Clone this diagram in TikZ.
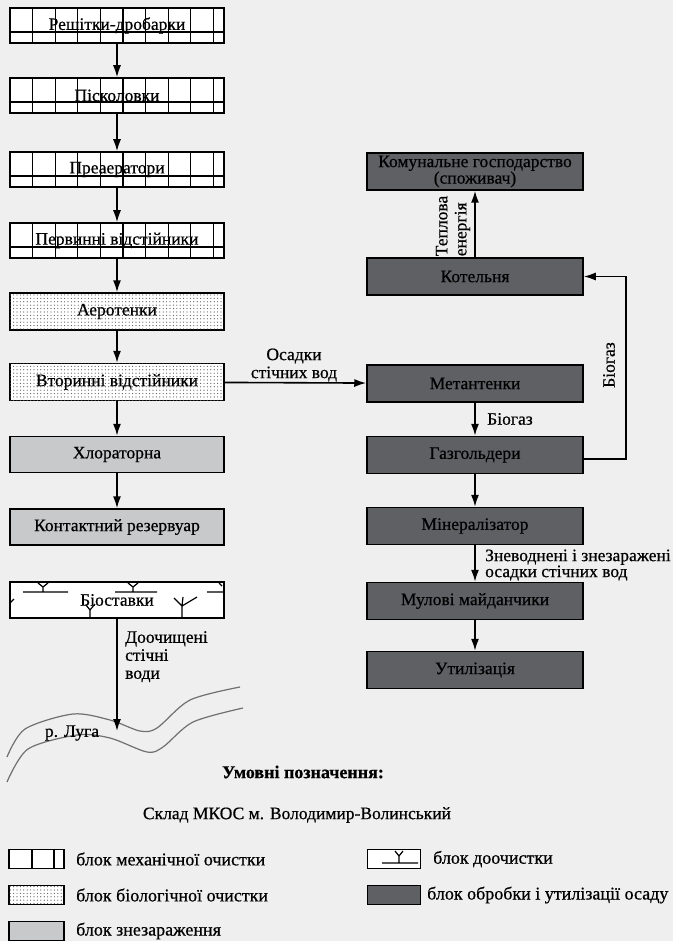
\documentclass[tikz,border=0pt]{standalone}
\usepackage{fontspec}
\setmainfont{Liberation Serif}[FakeBold=0.6]
\usetikzlibrary{arrows.meta,patterns}
\pgfdeclarepatternformonly{bigdots}{\pgfqpoint{-1pt}{-1pt}}{\pgfqpoint{1pt}{1pt}}{\pgfqpoint{3.4pt}{3.4pt}}{\pgfpathcircle{\pgfqpoint{0pt}{0pt}}{0.6pt}\pgfusepath{fill}}
\definecolor{bg}{HTML}{EFEFEF}
\definecolor{darkbox}{HTML}{5E6064}
\definecolor{lightbox}{HTML}{C8C9CB}
\definecolor{river}{HTML}{707070}
\definecolor{dotc}{HTML}{555555}
\begin{document}
\begin{tikzpicture}[x=1pt,y=-1pt,
  every node/.style={font=\fontsize{17.5}{17}\selectfont, inner sep=0pt},
  box/.style={draw, line width=1.5pt, minimum width=214pt, minimum height=35pt},
  rbox/.style={draw, line width=1.5pt, minimum width=216pt, minimum height=37pt, fill=darkbox},
  mech/.style={box, fill=white, path picture={
      \foreach \i in {1,...,9}
        \draw[line width=1.3pt] ([xshift=\i*22.6pt]path picture bounding box.south west) -- ([xshift=\i*22.6pt]path picture bounding box.north west);
      \draw[line width=1.3pt] ([yshift=11pt]path picture bounding box.south west) -- ([yshift=11pt]path picture bounding box.south east);}},
  bio/.style={box, fill=white, minimum height=37pt, postaction={pattern=bigdots, pattern color=dotc}},
  dis/.style={box, fill=lightbox, minimum height=36pt},
  arr/.style={line width=1.6pt, -{Latex[length=12pt,width=8pt]}},
  lbl/.style={font=\fontsize{17.5}{18}\selectfont},
  leg/.style={draw, line width=1.5pt, minimum width=55pt, minimum height=19pt},
  legtxt/.style={anchor=west, font=\fontsize{18}{18}\selectfont},
  thin/.style={line width=1.2pt}
]
\fill[bg] (0,0) rectangle (673,941);
\useasboundingbox (0,0) rectangle (673,941);

% left column
\node[mech] (m1) at (117,25.5) {\raisebox{-2pt}{Решітки-дробарки}};
\node[mech] (m2) at (117,95.5) {\raisebox{-2pt}{Пісколовки}};
\node[mech] (m3) at (117,169.5) {\raisebox{-2pt}{Преаератори}};
\node[mech] (m4) at (117,240.5) {\raisebox{-2pt}{Первинні відстійники}};
\node[bio] (b1) at (117,311.5) {Аеротенки};
\node[bio] (b2) at (117,382) {Вторинні відстійники};
\node[dis] (d1) at (117,454.5) {Хлораторна};
\node[dis] (d2) at (117,527) {Контактний резервуар};
\node[box, fill=white, minimum height=36pt] (bs) at (117,600) {Біоставки};

\draw[arr] (m1) -- (m2);
\draw[arr] (m2) -- (m3);
\draw[arr] (m3) -- (m4);
\draw[arr] (m4) -- (b1);
\draw[arr] (b1) -- (b2);
\draw[arr] (b2) -- (d1);
\draw[arr] (d1) -- (d2);

% biostavky symbols
\draw[thin] (23,592) -- (68,592) (43,592) -- (43,587) -- (38,583) (43,587) -- (48,583);
\draw[thin] (115,592) -- (157,592) (133,592) -- (133,587) -- (128,583) (133,587) -- (138,583);
\draw[thin] (207,592) -- (223,592) (219,583) -- (222,586);
\draw[thin] (10,603) -- (14,599);
\draw[thin] (90,618) -- (90,610) -- (86,605) (90,610) -- (95,604);
\draw[thin] (182,618) -- (182,606) -- (174,598) (182,606) -- (197,597) (182,606) -- (183,597);

% river
\draw[river, line width=1.2pt] plot[smooth, tension=0.5] coordinates {(7,757) (25,729) (73,714) (110,720) (140,731) (157,728) (190,700) (240,687)};
\draw[river, line width=1.2pt] plot[smooth, tension=0.5] coordinates {(7,782) (28,749) (77,735) (110,738) (147,752) (163,747) (193,722) (243,708)};
\coordinate (riv) at (117,731);
\draw[arr] (bs) -- (riv);
\node[lbl, align=left, anchor=north west] (doo) at (125,631) {Доочищені\\стічні\\води};
\node[lbl] (luga) at (72,733) {р. Луга};

% right column
\node[rbox, align=center, font=\fontsize{17.5}{16.5}\selectfont] (kg) at (475,171.5) {Комунальне господарство\\(споживач)};
\node[rbox] (kot) at (475,276.5) {Котельня};
\node[rbox] (met) at (475,383.5) {Метантенки};
\node[rbox] (gas) at (475,455) {Газгольдери};
\node[rbox] (min) at (475,526) {Мінералізатор};
\node[rbox] (mul) at (475,601) {Мулові майданчики};
\node[rbox] (ut) at (475,670) {Утилізація};

\draw[arr] (kot) -- (kg);
\draw[arr] (met) -- (gas);
\draw[arr] (gas) -- (min);
\draw[arr] (min) -- (mul);
\draw[arr] (mul) -- (ut);
\draw[arr] ([yshift=-4pt]gas.east) -- ++(42,0) |- (kot.east);
\draw[arr] (b2) -- (met);

\node[lbl, rotate=90, align=left, font=\fontsize{17.5}{19}\selectfont] (tep) at (453,226) {Теплова\\енергія};
\node[lbl] (bg1) at (510,419) {Біогаз};
\node[lbl, rotate=90] (bg2) at (609,365) {Біогаз};
\node[lbl, align=center] (osad) at (294,365) {Осадки\\стічних вод};
\node[lbl, align=left, anchor=west, font=\fontsize{17.5}{16}\selectfont] (znev) at (485,565) {Зневоднені і знезаражені\\осадки стічних вод};

% legend
\node[font=\bfseries\fontsize{18}{18}\selectfont] (um) at (303,772) {Умовні позначення:};
\node[lbl] (sklad) at (297,815) {Склад МКОС м. Володимир-Волинський};

\node[leg, fill=white, path picture={
   \draw[line width=1.3pt] ([xshift=23pt]path picture bounding box.south west) -- ([xshift=23pt]path picture bounding box.north west);
   \draw[line width=1.3pt] ([xshift=45pt]path picture bounding box.south west) -- ([xshift=45pt]path picture bounding box.north west);}] (l1) at (36.5,859) {};
\node[legtxt] (t1) at (76,859) {блок механічної очистки};
\node[leg, fill=white, postaction={pattern=bigdots, pattern color=dotc}] (l2) at (36.5,895) {};
\node[legtxt] (t2) at (76,895) {блок біологічної очистки};
\node[leg, fill=lightbox] (l3) at (36.5,931) {};
\node[legtxt] (t3) at (76,931) {блок знезараження};
\node[leg, fill=white, minimum width=53pt] (l4) at (394,859) {};
\draw[thin] (382,863) -- (418,863) (399,863) -- (399,856) -- (395,851) (399,856) -- (403,851);
\node[legtxt] (t4) at (433,859) {блок доочистки};
\node[leg, fill=darkbox, minimum width=53pt] (l5) at (394,895) {};
\node[legtxt] (t5) at (427,895) {блок обробки і утилізації осаду};
\end{tikzpicture}
\end{document}
